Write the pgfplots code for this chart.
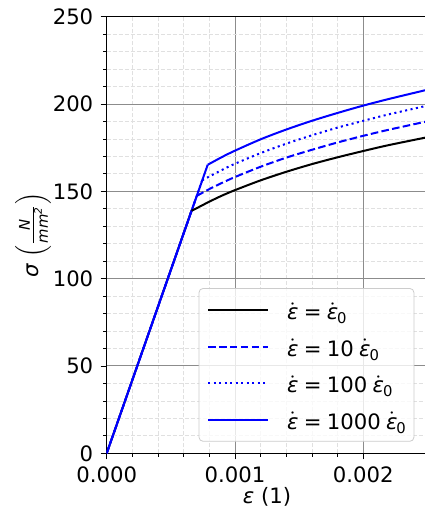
\documentclass[border=0pt]{standalone}
\usepackage{fontspec}
\setmainfont{DejaVu Sans}
\usepackage{pgfplots}
\pgfplotsset{compat=1.18}
\usetikzlibrary{calc}

% strain-rate symbols
\newcommand{\epsd}{$\dot{\mbox{\itshape ε}}$}
\newcommand{\epsz}{\epsd\kern-0.05em\raisebox{-0.35ex}{\fontsize{7.4}{8}\selectfont 0}}
\newcommand{\gap}{\hspace{0.25em}}

\begin{document}
\fontsize{10.6}{12.7}\selectfont
\begin{tikzpicture}
\begin{axis}[
    scale only axis,
    width=160.4pt, height=218.3pt,
    xmin=0, xmax=0.0025, ymin=0, ymax=250,
    xtick={0,0.001,0.002}, ytick={0,50,...,250},
    minor x tick num=4, minor y tick num=4,
    scaled x ticks=false,
    x tick label style={/pgf/number format/fixed,
        /pgf/number format/fixed zerofill, /pgf/number format/precision=3},
    /pgf/number format/assume math mode=true,
    tick align=outside, tick pos=left,
    major tick length=3pt, minor tick length=1.75pt,
    tick style={black, line width=0.4pt},
    grid=both,
    major grid style={black!45, line width=0.5pt},
    minor grid style={black!12, line width=0.4pt, dash pattern=on 2pt off 1pt},
    axis line style={black, line width=0.5pt},
    xlabel={{\itshape ε} (1)},
    xlabel style={at={(axis description cs:0.5,-0.0994)}, anchor=center},
    ylabel={{\itshape σ} $\left(\frac{\mbox{\fontsize{7.4}{8}\selectfont\itshape N}}{\mbox{\fontsize{7.4}{8}\selectfont\itshape mm$^{\mbox{\fontsize{5.2}{6}\selectfont 2}}$}}\right)$},
    ylabel style={at={(axis description cs:-0.2297,0.5)}, anchor=center},
    legend style={at={(axis description cs:0.9589,0.0266)}, anchor=south east,
        draw=black!20, rounded corners=2pt, fill=white, fill opacity=0.8,
        text opacity=1, inner xsep=4pt, inner ysep=4pt, row sep=4.8pt, column sep=9pt,
        nodes={inner sep=0pt, text height=11.5pt, text depth=2pt}},
    legend cell align=left,
    legend image code/.code={\draw[#1] (0pt,0pt) -- (30pt,0pt);},
]
% elastic branches
\addplot[black, line width=1pt, forget plot] coordinates {(0,0) (0.000661,138.9)};
\addplot[blue, line width=1pt, dash pattern=on 3.8pt off 1.65pt, forget plot] coordinates {(0,0) (0.000702,147.4)};
\addplot[blue, line width=1pt, dash pattern=on 1.04pt off 1.72pt, forget plot] coordinates {(0,0) (0.000744,156.3)};
\addplot[blue, line width=1pt, forget plot] coordinates {(0,0) (0.000787,165.2)};

% plastic branches
\addplot[black, line width=1pt, smooth] coordinates {
    (0.000661,138.9) (0.0007,140.3) (0.0008,144.1) (0.0009,147.6) (0.001,150.7)
    (0.0012,156.3) (0.0014,161.2) (0.0016,165.6) (0.0018,169.5) (0.002,173.1)
    (0.0022,176.5) (0.0025,181.0)};
\addlegendentry{\epsd\gap=\gap\epsz}
\addplot[blue, line width=1pt, smooth, dash pattern=on 3.8pt off 1.65pt] coordinates {
    (0.000702,147.4) (0.0008,151.3) (0.0009,154.9) (0.001,158.2) (0.0012,164.1)
    (0.0014,169.3) (0.0016,173.8) (0.0018,178.0) (0.002,181.8) (0.0022,185.3)
    (0.0025,190.1)};
\addlegendentry{\epsd\gap=\gap10\gap\epsz}
\addplot[blue, line width=1pt, smooth, dash pattern=on 1.04pt off 1.72pt] coordinates {
    (0.000744,156.3) (0.0008,158.5) (0.0009,162.3) (0.001,165.8) (0.0012,171.9)
    (0.0014,177.3) (0.0016,182.1) (0.0018,186.5) (0.002,190.4) (0.0022,194.1)
    (0.0025,199.1)};
\addlegendentry{\epsd\gap=\gap100\gap\epsz}
\addplot[blue, line width=1pt, smooth] coordinates {
    (0.000787,165.2) (0.0009,169.7) (0.001,173.3) (0.0012,179.8) (0.0014,185.4)
    (0.0016,190.4) (0.0018,194.9) (0.002,199.1) (0.0022,202.9) (0.0025,208.2)};
\addlegendentry{\epsd\gap=\gap1000\gap\epsz}
\end{axis}
\pgfresetboundingbox
\path[use as bounding box] ($(current axis.south west)+(-53.35pt,-29.85pt)$)
    rectangle ($(current axis.north east)+(-1.25pt,8.35pt)$);
\end{tikzpicture}
\end{document}
